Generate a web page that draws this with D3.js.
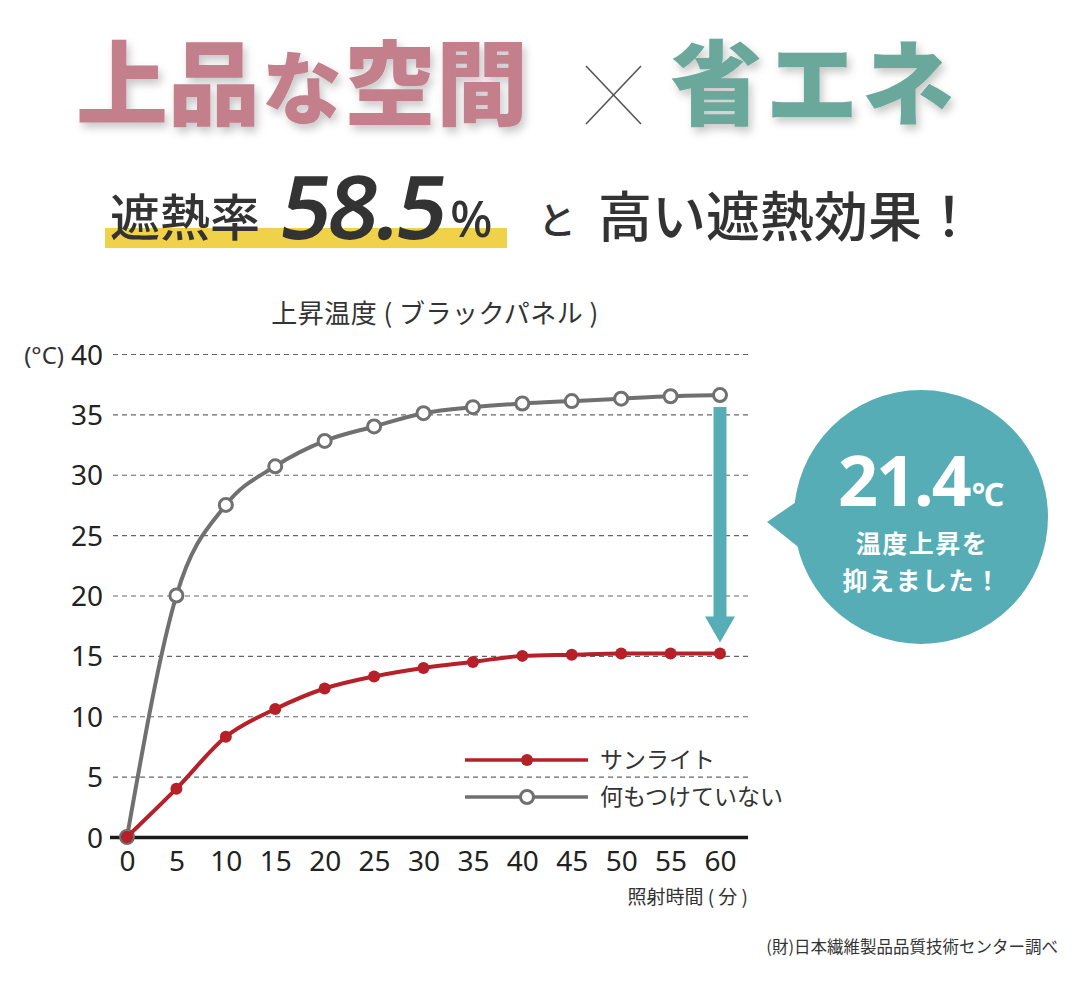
<!DOCTYPE html>
<html lang="ja">
<head>
<meta charset="utf-8">
<script src="https://cdn.jsdelivr.net/npm/d3@7"></script>
<style>
  html, body { margin: 0; padding: 0; background: #fff; }
  svg { display: block; }
</style>
</head>
<body>
<div id="chart"></div>
<script>
// Data
const minutes = [0, 5, 10, 15, 20, 25, 30, 35, 40, 45, 50, 55, 60];
const sunlight = [0, 4.0, 8.3, 10.6, 12.3, 13.3, 14.0, 14.5, 15.0, 15.1, 15.2, 15.2, 15.2];
const nothing = [0, 20.0, 27.5, 30.7, 32.8, 34.0, 35.1, 35.6, 35.9, 36.1, 36.3, 36.5, 36.6];
const yTicks = [0, 5, 10, 15, 20, 25, 30, 35, 40];
const xTicks = [0, 5, 10, 15, 20, 25, 30, 35, 40, 45, 50, 55, 60];
const seriesNames = ['サンライト', '何もつけていない'];

const W = 1080, H = 981;
const JP = '"Noto Sans CJK JP", "Noto Sans", sans-serif';
const NUM = '"Noto Sans", "Open Sans", sans-serif';
const RED = '#b52029', GRAY = '#707070', TEAL = '#57adb6';

const svg = d3.select('#chart').append('svg')
  .attr('width', W).attr('height', H)
  .attr('viewBox', `0 0 ${W} ${H}`);

svg.append('rect').attr('width', W).attr('height', H).attr('fill', '#fff');

// soft shadow under the big heading
const defs = svg.append('defs');
const f = defs.append('filter').attr('id', 'shadow')
  .attr('x', '-10%').attr('y', '-20%').attr('width', '130%').attr('height', '150%');
f.append('feDropShadow').attr('dx', 3).attr('dy', 5).attr('stdDeviation', 4)
  .attr('flood-color', '#000').attr('flood-opacity', 0.22);

// --- Heading ---
const head = svg.append('g').attr('filter', 'url(#shadow)');
const pink = head.append('text')
  .attr('x', 76).attr('y', 118)
  .style('font-family', JP).style('font-weight', 900).style('font-size', '92px')
  .style('fill', '#c3808c');
pink.append('tspan').text('上品');
pink.append('tspan').style('font-size', '80px').attr('dx', 2).text('な');
pink.append('tspan').attr('dx', 2).text('空間');

head.append('text')
  .attr('x', 670).attr('y', 118)
  .style('font-family', JP).style('font-weight', 900).style('font-size', '92px')
  .style('letter-spacing', '4px')
  .style('fill', '#6aa89c')
  .text('省エネ');

const cross = svg.append('g').attr('stroke', '#555').attr('stroke-width', 1.6);
cross.append('line').attr('x1', 586).attr('y1', 66).attr('x2', 641).attr('y2', 124);
cross.append('line').attr('x1', 641).attr('y1', 66).attr('x2', 586).attr('y2', 124);

// --- Sub heading ---
svg.append('rect').attr('x', 105).attr('y', 228).attr('width', 402).attr('height', 20)
  .attr('fill', '#f0d24a');

svg.append('text').attr('x', 110).attr('y', 236)
  .style('font-family', JP).style('font-weight', 500).style('font-size', '50px')
  .style('fill', '#333').text('遮熱率');

svg.append('text').attr('x', 278).attr('y', 239)
  .attr('transform', 'skewX(-8) translate(33,0)')
  .style('font-family', NUM).style('font-weight', 600)
  .style('font-size', '88px').style('letter-spacing', '-3px')
  .style('fill', '#333').text('58.5');

svg.append('text').attr('x', 450).attr('y', 237)
  .style('font-family', NUM).style('font-weight', 500).style('font-size', '50px')
  .style('fill', '#333').text('%');

svg.append('text').attr('x', 538).attr('y', 234)
  .style('font-family', JP).style('font-weight', 500).style('font-size', '38px')
  .style('fill', '#333').text('と');

svg.append('text').attr('x', 598).attr('y', 237)
  .style('font-family', JP).style('font-weight', 500).style('font-size', '54px')
  .style('fill', '#333').text('高い遮熱効果！');

// --- Chart ---
const x = d3.scaleLinear().domain([0, 60]).range([127, 720]);
const y = d3.scaleLinear().domain([0, 40]).range([837, 354]);
const gridLeft = 113, gridRight = 748;

svg.append('text').attr('x', 435).attr('y', 323).attr('text-anchor', 'middle')
  .style('font-family', JP).style('font-size', '26px').style('letter-spacing', '0.5px')
  .style('fill', '#333')
  .text('上昇温度 ( ブラックパネル )');

svg.append('text').attr('x', 64).attr('y', 364).attr('text-anchor', 'end')
  .style('font-family', NUM).style('font-size', '24px').style('fill', '#333')
  .text('(°C)');

const yAxisG = svg.append('g').attr('transform', `translate(${gridLeft},0)`)
  .call(d3.axisLeft(y).tickValues(yTicks).tickSize(-(gridRight - gridLeft)).tickPadding(10));
yAxisG.select('.domain').remove();
yAxisG.selectAll('.tick line')
  .attr('stroke', '#666').attr('stroke-width', 1.2).attr('stroke-dasharray', '5,4');
yAxisG.selectAll('.tick text')
  .style('font-family', NUM).style('font-size', '28px').style('fill', '#222')
  .attr('dy', '0.36em');
yAxisG.selectAll('.tick').filter(d => d === 0).select('line')
  .attr('stroke', '#1a1a1a').attr('stroke-width', 3.5).attr('stroke-dasharray', null)
  .attr('x1', -3);

const xAxisG = svg.append('g').attr('transform', `translate(0,${y(0)})`)
  .call(d3.axisBottom(x).tickValues(xTicks).tickSize(0).tickPadding(14));
xAxisG.select('.domain').remove();
xAxisG.selectAll('.tick text')
  .style('font-family', NUM).style('font-size', '28px').style('fill', '#222');

svg.append('text').attr('x', 748).attr('y', 904).attr('text-anchor', 'end')
  .style('font-family', JP).style('font-size', '19px').style('fill', '#333')
  .text('照射時間 ( 分 )');

// series
const line = d3.line().x(d => x(d[0])).y(d => y(d[1])).curve(d3.curveMonotoneX);
const grayPts = minutes.map((m, i) => [m, nothing[i]]);
const redPts = minutes.map((m, i) => [m, sunlight[i]]);

svg.append('path').datum(grayPts).attr('d', line)
  .attr('fill', 'none').attr('stroke', GRAY).attr('stroke-width', 4);
svg.append('g').selectAll('circle').data(grayPts).join('circle')
  .attr('cx', d => x(d[0])).attr('cy', d => y(d[1])).attr('r', 6.5)
  .attr('fill', '#fff').attr('stroke', GRAY).attr('stroke-width', 3);

svg.append('path').datum(redPts).attr('d', line)
  .attr('fill', 'none').attr('stroke', RED).attr('stroke-width', 4);
svg.append('g').selectAll('circle').data(redPts).join('circle')
  .attr('cx', d => x(d[0])).attr('cy', d => y(d[1])).attr('r', 6)
  .attr('fill', RED);

// difference arrow at 60 min
const ax = x(60);
const aTop = y(nothing[nothing.length - 1]) + 12;
const aTip = y(sunlight[sunlight.length - 1]) - 11;
const headH = 26, headW = 15, shaft = 6.5;
svg.append('path')
  .attr('d', `M${ax - shaft},${aTop} H${ax + shaft} V${aTip - headH} H${ax + headW} L${ax},${aTip} L${ax - headW},${aTip - headH} H${ax - shaft} Z`)
  .attr('fill', TEAL);

// legend
const legend = svg.append('g').attr('transform', 'translate(465,0)');
[[RED, 760, true], [GRAY, 797, false]].forEach(([c, ly, filled], i) => {
  legend.append('line').attr('x1', 0).attr('x2', 123).attr('y1', ly).attr('y2', ly)
    .attr('stroke', c).attr('stroke-width', 3.5);
  legend.append('circle').attr('cx', 62).attr('cy', ly).attr('r', filled ? 6 : 6.5)
    .attr('fill', filled ? c : '#fff').attr('stroke', filled ? 'none' : c).attr('stroke-width', 3);
  legend.append('text').attr('x', 135).attr('y', ly + 8)
    .style('font-family', JP).style('font-size', '23px').style('fill', '#333')
    .text(seriesNames[i]);
});

// callout bubble
const bubble = svg.append('g');
bubble.append('path').attr('d', 'M767,522 L802,498 L802,550 Z').attr('fill', TEAL);
bubble.append('circle').attr('cx', 921).attr('cy', 517).attr('r', 127).attr('fill', TEAL);
const big = bubble.append('text').attr('x', 838).attr('y', 506)
  .style('font-family', NUM).style('font-weight', 700).style('fill', '#fff');
big.append('tspan').style('font-size', '70px').style('letter-spacing', '-2px').text('21.4');
big.append('tspan').style('font-size', '32px').attr('dx', 2).text('℃');
bubble.append('text').attr('x', 922).attr('y', 553).attr('text-anchor', 'middle')
  .style('font-family', JP).style('font-weight', 700).style('font-size', '25px')
  .style('letter-spacing', '1.5px').style('fill', '#fff').text('温度上昇を');
bubble.append('text').attr('x', 922).attr('y', 590).attr('text-anchor', 'middle')
  .style('font-family', JP).style('font-weight', 700).style('font-size', '25px')
  .style('letter-spacing', '1.5px').style('fill', '#fff').text('抑えました！');

// source note
svg.append('text').attr('x', 1058).attr('y', 953).attr('text-anchor', 'end')
  .style('font-family', JP).style('font-size', '16.5px').style('fill', '#333')
  .text('(財)日本繊維製品品質技術センター調べ');
</script>
</body>
</html>
